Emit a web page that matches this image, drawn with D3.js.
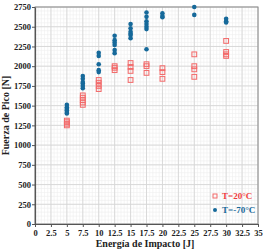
<!DOCTYPE html>
<html>
<head>
<meta charset="utf-8">
<script src="https://cdn.jsdelivr.net/npm/d3@7"></script>
<style>
  body { margin: 0; background: #fff; }
  svg text { font-family: "Liberation Serif", "DejaVu Serif", serif !important; font-weight: bold; }
</style>
</head>
<body>
<svg width="270" height="251"></svg>
<script>
"use strict";

// energia de impacto [J] y fuerza de pico [N]
const warmEnergy = [5, 5, 5, 5, 7.5, 7.5, 7.5, 7.5, 7.5, 10, 10, 10, 10, 12.5, 12.5, 12.5,
  15, 15, 15, 15, 17.5, 17.5, 17.5, 20, 20, 20, 25, 25, 25, 25, 30, 30, 30, 30];
const warmForce = [1310, 1290, 1270, 1250, 1630, 1600, 1570, 1540, 1510, 1825, 1790, 1750, 1710, 2000, 1980, 1950,
  2040, 1990, 1940, 1825, 2025, 2000, 1915, 1975, 1925, 1840, 2150, 2000, 1960, 1865, 2320, 2180, 2150, 2130];

const coldEnergy = [5, 5, 5, 5, 5, 5, 7.5, 7.5, 7.5, 7.5, 7.5, 7.5, 10, 10, 10, 10, 10,
  12.5, 12.5, 12.5, 12.5, 12.5, 12.5, 15, 15, 15, 15, 15, 15,
  17.5, 17.5, 17.5, 17.5, 17.5, 17.5, 17.5, 20, 20, 20, 25, 25, 30, 30, 30];
const coldForce = [1510, 1480, 1460, 1440, 1420, 1400, 1875, 1840, 1800, 1780, 1750, 1720, 2170, 2130, 2025, 1950, 1925,
  2385, 2330, 2300, 2270, 2205, 2165, 2535, 2480, 2435, 2410, 2395, 2355,
  2680, 2625, 2570, 2535, 2500, 2470, 2215, 2670, 2635, 2620, 2750, 2650, 2600, 2570, 2555];

const xTicks = [0, 2.5, 5, 7.5, 10, 12.5, 15, 17.5, 20, 22.5, 25, 27.5, 30, 32.5, 35];
const yTicks = [0, 250, 500, 750, 1000, 1250, 1500, 1750, 2000, 2250, 2500, 2750];
const seriesNames = ["T=20°C", "T=-70°C"];

const svg = d3.select("svg");
const mLeft = 35, mRight = 258, mTop = 7, mBottom = 224;
const serif = "'Liberation Serif', 'DejaVu Serif', serif";

const x = d3.scaleLinear().domain([0, 35]).range([mLeft, mRight]);
const y = d3.scaleLinear().domain([0, 2750]).range([mBottom, mTop]);

// rejilla menor (5 divisiones)
const grid = svg.append("g");
grid.selectAll("line.mx").data(d3.range(0, 35.01, 0.5)).enter().append("line")
  .attr("x1", d => x(d)).attr("x2", d => x(d)).attr("y1", mTop).attr("y2", mBottom)
  .attr("stroke", "#eeeeee").attr("stroke-width", 0.6);
grid.selectAll("line.my").data(d3.range(0, 2750.1, 50)).enter().append("line")
  .attr("y1", d => y(d)).attr("y2", d => y(d)).attr("x1", mLeft).attr("x2", mRight)
  .attr("stroke", "#eeeeee").attr("stroke-width", 0.6);
// rejilla mayor
grid.selectAll("line.Mx").data(xTicks).enter().append("line")
  .attr("x1", d => x(d)).attr("x2", d => x(d)).attr("y1", mTop).attr("y2", mBottom)
  .attr("stroke", "#d6d6d6").attr("stroke-width", 0.9);
grid.selectAll("line.My").data(yTicks).enter().append("line")
  .attr("y1", d => y(d)).attr("y2", d => y(d)).attr("x1", mLeft).attr("x2", mRight)
  .attr("stroke", "#d6d6d6").attr("stroke-width", 0.9);

// marco
svg.append("rect").attr("x", mLeft).attr("y", mTop).attr("width", mRight - mLeft).attr("height", mBottom - mTop)
  .attr("fill", "none").attr("stroke", "#8a8a8a").attr("stroke-width", 1);

// ejes
const xAxis = d3.axisBottom(x).tickValues(xTicks).tickSize(3).tickSizeOuter(0).tickFormat(d3.format("~g"));
const yAxis = d3.axisLeft(y).tickValues(yTicks).tickSize(3).tickSizeOuter(0).tickFormat(d3.format("d"));

const gx = svg.append("g").attr("transform", `translate(0,${mBottom})`).call(xAxis);
const gy = svg.append("g").attr("transform", `translate(${mLeft},0)`).call(yAxis);
[gx, gy].forEach(g => {
  g.attr("font-family", serif).attr("font-size", 8.5);
  g.select(".domain").attr("stroke", "#555").attr("stroke-width", 1.2);
  g.selectAll(".tick line").attr("stroke", "#555");
  g.selectAll(".tick text").attr("fill", "#222").style("font-family", serif).style("font-weight", "bold");
});
gy.selectAll(".tick text").attr("x", -4);

// puntos
svg.append("g").selectAll("rect").data(warmEnergy).enter().append("rect")
  .attr("x", (d, i) => x(d) - 2.4).attr("y", (d, i) => y(warmForce[i]) - 2.4)
  .attr("width", 4.8).attr("height", 4.8)
  .attr("fill", "rgba(255,120,120,0.1)").attr("stroke", "#f26b6b").attr("stroke-width", 1);

svg.append("g").selectAll("circle").data(coldEnergy).enter().append("circle")
  .attr("cx", d => x(d)).attr("cy", (d, i) => y(coldForce[i]))
  .attr("r", 2.3).attr("fill", "#16699a");

// leyenda
svg.append("rect").attr("x", 213).attr("y", 194).attr("width", 4).attr("height", 4)
  .attr("fill", "none").attr("stroke", "#f26b6b").attr("stroke-width", 1);
svg.append("text").attr("x", 222).attr("y", 199).attr("font-size", 9).attr("fill", "#f03c3c")
  .style("font-family", serif).text(seriesNames[0]);
svg.append("circle").attr("cx", 215).attr("cy", 210).attr("r", 2).attr("fill", "#16699a");
svg.append("text").attr("x", 222).attr("y", 213).attr("font-size", 9).attr("fill", "#16699a")
  .style("font-family", serif).text(seriesNames[1]);

// titulos de ejes
svg.append("text").attr("x", 145).attr("y", 247).attr("text-anchor", "middle")
  .attr("font-size", 10).attr("fill", "#222").style("font-family", serif).text("Energía de Impacto [J]");
svg.append("text").attr("transform", `translate(9,${(mTop + mBottom) / 2}) rotate(-90)`)
  .attr("text-anchor", "middle").attr("font-size", 10).attr("fill", "#222")
  .style("font-family", serif).text("Fuerza de Pico [N]");
</script>
</body>
</html>
